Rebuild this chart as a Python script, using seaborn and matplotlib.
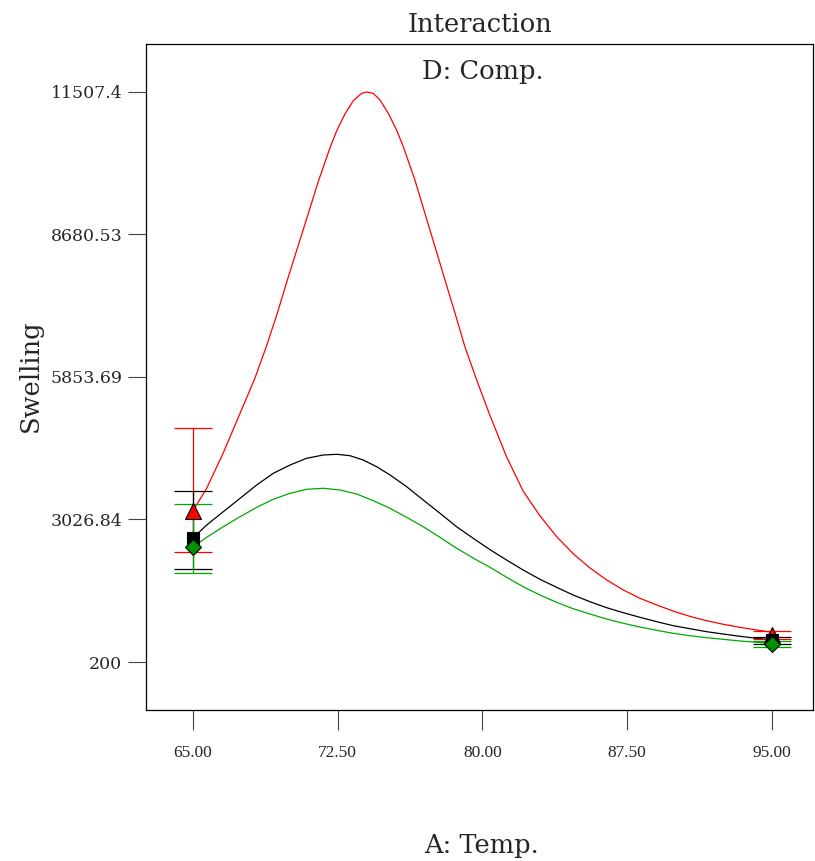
import matplotlib
matplotlib.use("Agg")
import matplotlib.pyplot as plt
import seaborn as sns
import pandas as pd
import numpy as np

# ---------------- data ----------------
red_A = [65.0, 65.71, 66.57, 67.44, 68.21, 68.82, 69.37, 69.89, 70.46, 70.98, 71.49,
         72.10, 72.45, 72.88, 73.31, 73.74, 74.0, 74.34, 74.69, 75.12, 75.55, 75.90,
         76.50, 77.02, 77.54, 78.06, 78.58, 79.09, 79.70, 80.39, 81.25, 82.11, 82.98,
         83.84, 84.70, 85.57, 86.44, 87.30, 88.16, 89.03, 89.89, 90.75, 91.62, 92.48,
         93.34, 94.21, 94.73, 95.0]
red_S = [3201, 3646, 4350, 5134, 5830, 6480, 7117, 7778, 8470, 9101, 9730,
         10400, 10740, 11075, 11335, 11480, 11507, 11480, 11349, 11085, 10754, 10423,
         9762, 9101, 8439, 7778, 7117, 6455, 5794, 5090, 4270, 3590, 3100,
         2690, 2350, 2065, 1827, 1628, 1464, 1331, 1210, 1105, 1019, 948,
         888, 835, 805, 790]

black_A = [65.0, 65.71, 66.57, 67.44, 68.30, 69.16, 70.03, 70.89, 71.75, 72.45, 73.13,
           73.82, 74.52, 75.21, 76.07, 76.93, 77.80, 78.66, 79.52, 80.39, 81.25, 82.11,
           82.98, 83.84, 84.70, 85.57, 86.44, 87.30, 88.16, 89.03, 89.89, 90.75, 91.62,
           92.48, 93.34, 94.21, 94.73, 95.0]
black_S = [2660, 2918, 3182, 3447, 3711, 3943, 4108, 4241, 4306, 4320, 4293,
           4207, 4074, 3910, 3678, 3414, 3150, 2884, 2654, 2429, 2223, 2025,
           1841, 1682, 1529, 1396, 1277, 1178, 1087, 1000, 920, 861, 801,
           755, 710, 670, 650, 640]

green_A = [65.0, 65.71, 66.57, 67.44, 68.30, 69.16, 70.03, 70.89, 71.75, 72.62, 73.48,
           74.34, 75.21, 76.07, 76.93, 77.80, 78.66, 79.70, 80.39, 81.25, 82.11, 82.98,
           83.84, 84.70, 85.57, 86.44, 87.30, 88.16, 89.03, 89.89, 90.75, 91.62, 92.48,
           93.34, 94.21, 94.73, 95.0]
green_S = [2481, 2674, 2884, 3082, 3269, 3428, 3547, 3626, 3646, 3612, 3533,
           3400, 3249, 3070, 2884, 2674, 2456, 2223, 2079, 1880, 1694, 1529,
           1384, 1257, 1152, 1053, 968, 894, 829, 769, 722, 682, 650,
           617, 591, 577, 570]

# design points: x, mean, lower, upper
pt_A = [65.0, 95.0]
red_pt = [3201, 740]
red_lo = [2388, 660]
red_hi = [4842, 810]
black_pt = [2660, 635]
black_lo = [2039, 560]
black_hi = [3598, 700]
green_pt = [2481, 557]
green_lo = [1960, 500]
green_hi = [3340, 620]

x_ticks = [65.0, 72.5, 80.0, 87.5, 95.0]
x_ticklabels = ["65.00", "72.50", "80.00", "87.50", "95.00"]
y_ticks = [200, 3026.84, 5853.69, 8680.53, 11507.4]
y_ticklabels = ["200", "3026.84", "5853.69", "8680.53", "11507.4"]

# ---------------- plot ----------------
sns.set_style("white")
plt.rcParams["font.family"] = ["DejaVu Serif", "DejaVu Sans"]

fig = plt.figure(figsize=(8.15, 8.61), dpi=100)
ax = fig.add_axes([146 / 815, 1 - 710 / 861, (813 - 146) / 815, (710 - 44) / 861])

df = pd.concat([
    pd.DataFrame({"A": red_A, "S": red_S, "D": "high"}),
    pd.DataFrame({"A": black_A, "S": black_S, "D": "mid"}),
    pd.DataFrame({"A": green_A, "S": green_S, "D": "low"}),
])
pal = {"high": "#ff0000", "mid": "#000000", "low": "#00a800"}
sns.lineplot(data=df, x="A", y="S", hue="D", palette=pal, sort=False,
             estimator=None, legend=False, linewidth=0.9, ax=ax, zorder=2)

series = [
    ("#ff0000", "#ff0000", "^", red_pt, red_lo, red_hi, 11),
    ("#000000", "#000000", "s", black_pt, black_lo, black_hi, 9),
    ("#00a800", "#009000", "D", green_pt, green_lo, green_hi, 8.5),
]
for lc, fc, mk, pt, lo, hi, ms in series:
    pt = np.array(pt, float)
    yerr = np.vstack([pt - np.array(lo, float), np.array(hi, float) - pt])
    ax.errorbar(pt_A, pt, yerr=yerr, fmt="none", ecolor=lc, elinewidth=0.9,
                capsize=14, capthick=0.9, zorder=3)
for lc, fc, mk, pt, lo, hi, ms in series:
    ax.plot(pt_A, pt, linestyle="none", marker=mk, markersize=ms,
            markerfacecolor=fc, markeredgecolor="black", markeredgewidth=0.8, zorder=4)

ax.set_xlim(62.565, 97.13)
ax.set_ylim(-752, 12459)
ax.set_xticks(x_ticks)
ax.set_xticklabels(x_ticklabels, family=["Liberation Serif"], fontsize=12.5)
ax.set_yticks(y_ticks)
ax.set_yticklabels(y_ticklabels, fontsize=12.5)
ax.tick_params(axis="x", direction="out", length=14.5, width=0.8, color="#444444", pad=11)
ax.tick_params(axis="y", direction="out", length=13, width=0.8, color="#444444", pad=4)
ax.tick_params(bottom=True, left=True)
for s in ax.spines.values():
    s.set_visible(True)
    s.set_color("black")
    s.set_linewidth(0.9)

ax.set_xlabel("")
ax.set_ylabel("")
fig.text(480 / 815, 1 - 24 / 861, "Interaction", ha="center", va="center", fontsize=18.5)
fig.text(483 / 815, 1 - 72 / 861, "D: Comp.", ha="center", va="center", fontsize=18.5)
fig.text(481 / 815, 1 - 845 / 861, "A: Temp.", ha="center", va="center", fontsize=18.5)
fig.text(30 / 815, 1 - 376 / 861, "Swelling", ha="center", va="center", rotation=90, fontsize=18.5)

fig.savefig("out.png", dpi=100, facecolor="white")
